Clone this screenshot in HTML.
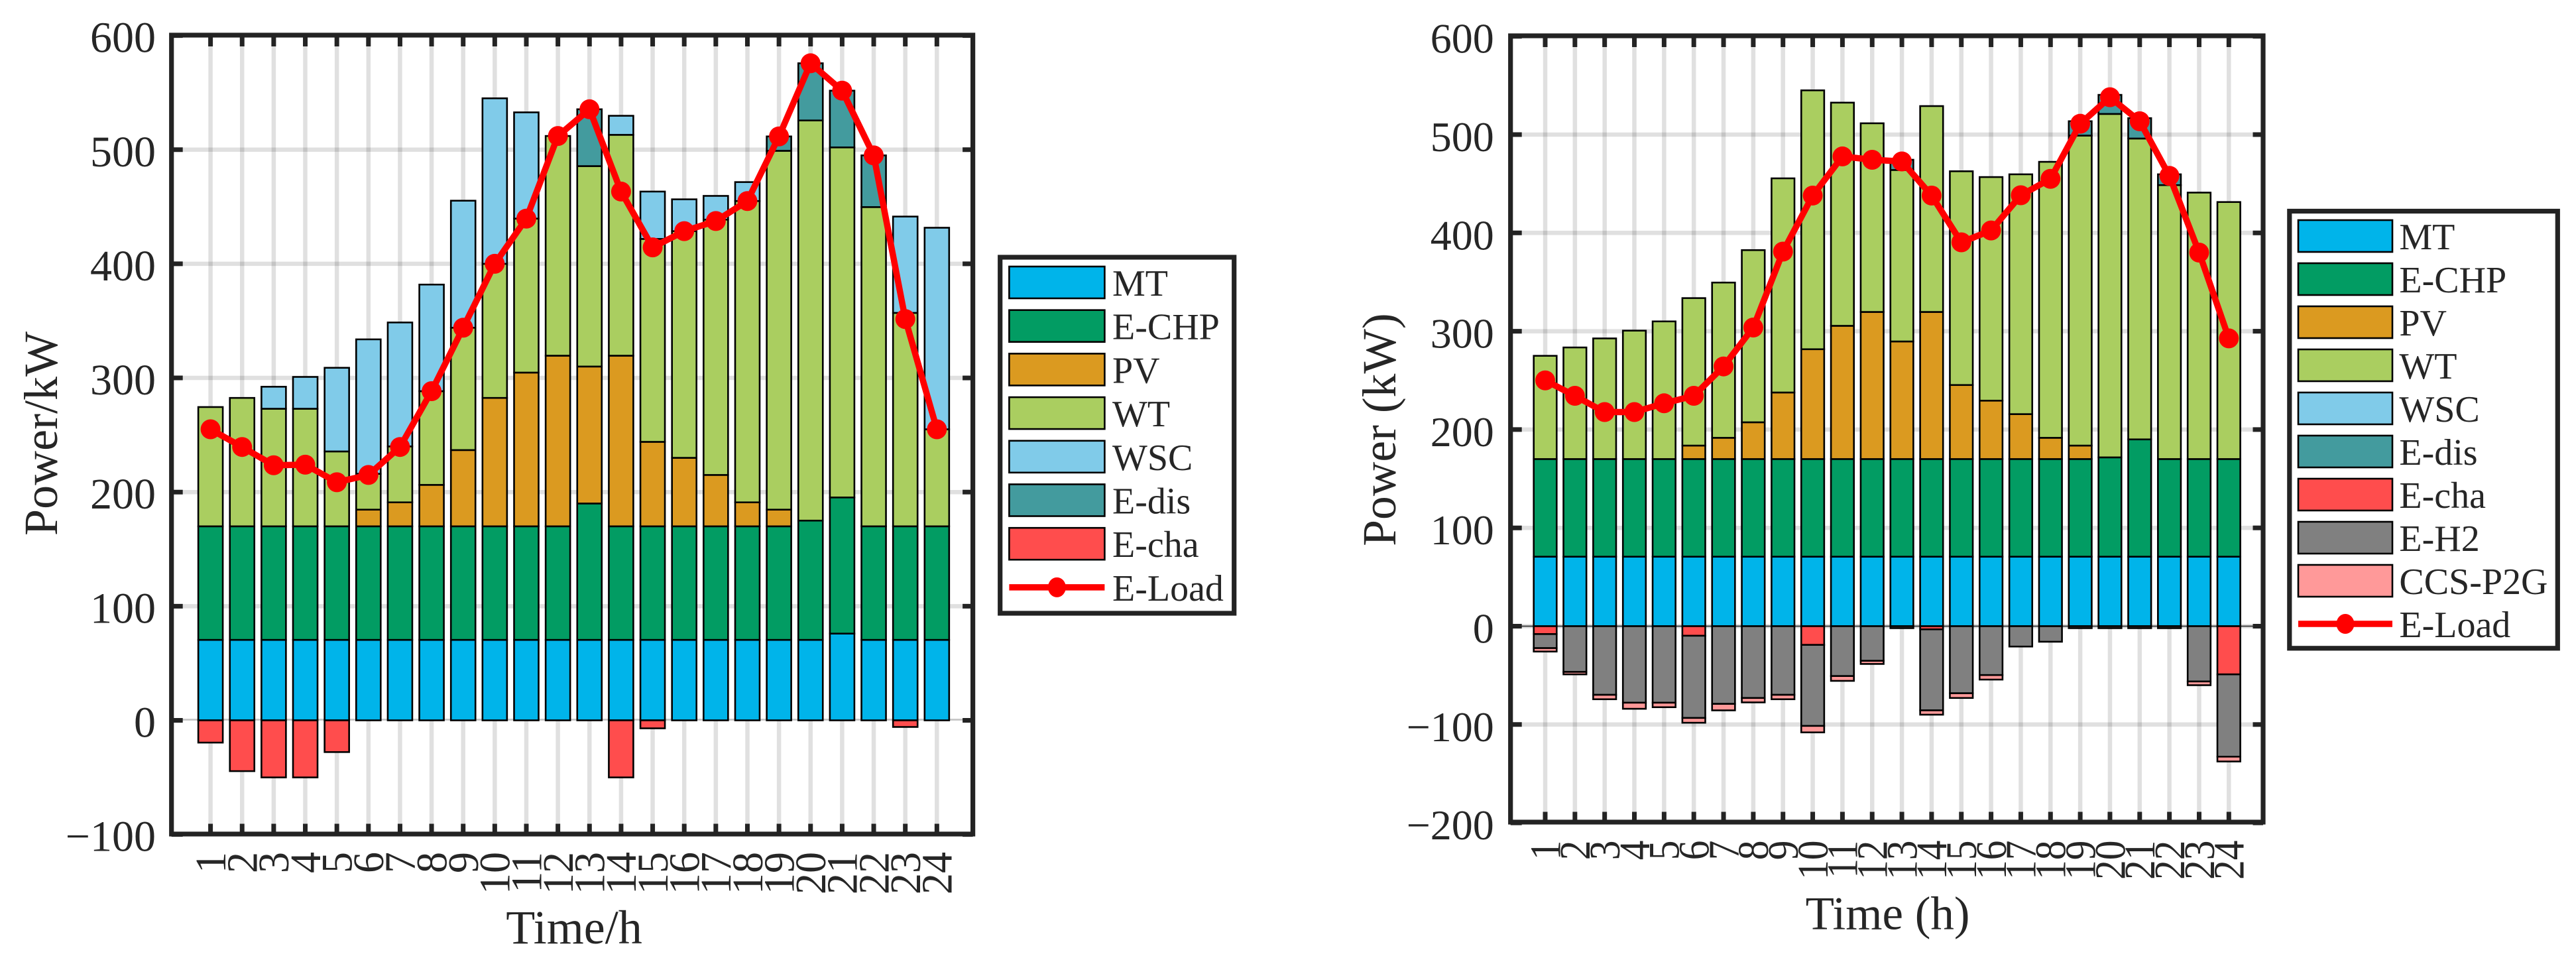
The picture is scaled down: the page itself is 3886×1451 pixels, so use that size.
<!DOCTYPE html>
<html lang="en">
<head>
<meta charset="utf-8">
<title>Power balance charts</title>
<style>
html,body{margin:0;padding:0;background:#fff;width:3886px;height:1451px;overflow:hidden}
svg{display:block}
text{font-family:"Liberation Serif","Times New Roman",serif;fill:#262626}
</style>
</head>
<body>
<svg id="figure" xmlns="http://www.w3.org/2000/svg" width="3886" height="1451" viewBox="0 0 3886 1451">
  <rect x="0" y="0" width="3886" height="1451" fill="#fff"/>
  <g id="left-chart"></g>
  <g id="right-chart"></g>
  <text x="866" y="1423" font-size="72" text-anchor="middle">Time/h</text>
  <text transform="translate(86,654) rotate(-90)" font-size="72" text-anchor="middle">Power/kW</text>
  <text x="2847.6" y="1401.6" font-size="71" text-anchor="middle">Time (h)</text>
  <text transform="translate(2105,648) rotate(-90)" font-size="71.5" text-anchor="middle">Power (kW)</text>
</svg>
<script>
const hours = [1,2,3,4,5,6,7,8,9,10,11,12,13,14,15,16,17,18,19,20,21,22,23,24];

const leftYTicks = [-100,0,100,200,300,400,500,600];
const leftMT  = [70.5,70.5,70.5,70.5,70.5,70.5,70.5,70.5,70.5,70.5,70.5,70.5,70.5,70.5,70.5,70.5,70.5,70.5,70.5,70.5,76,70.5,70.5,70.5];
const leftCHP = [99.5,99.5,99.5,99.5,99.5,99.5,99.5,99.5,99.5,99.5,99.5,99.5,119.5,99.5,99.5,99.5,99.5,99.5,99.5,104.5,119.3,99.5,99.5,99.5];
const leftPV  = [0,0,0,0,0,14.6,21,36.3,66.8,112.5,134.7,149.5,120,149.5,74,60,45,21,14.6,0,0,0,0,0];
const leftWT  = [104.5,112.5,103,103,65.6,31.4,49,82.1,107.2,117.5,134.9,192.5,175.6,193.5,177.8,198.6,223.7,264,314.4,350.6,306.7,279.7,187,85];
const leftWSC = [0,0,19.3,27.9,73.3,117.8,108.6,93.4,111.3,145,93.1,0,0,16.7,41.5,27.9,20.8,16.6,0,0,0,0,84.4,176.6];
const leftDis = [0,0,0,0,0,0,0,0,0,0,0,0,49.8,0,0,0,0,0,12.6,50.1,49.7,45.3,0,0];
const leftCha = [-19.5,-44.5,-50,-50,-27.8,0,0,0,0,0,0,0,0,-50,-7,0,0,0,0,0,0,0,-5.8,0];
const leftLoad = [255,239.5,223.5,224,208.6,215,239.5,288.4,344,400,439.6,512,535.4,463.3,414.4,428.6,437.5,455,511.6,575.7,551.7,495,351.6,255];

const rightYTicks = [-200,-100,0,100,200,300,400,500,600];
const rightMT  = [70.7,70.7,70.7,70.7,70.7,70.7,70.7,70.7,70.7,70.7,70.7,70.7,70.7,70.7,70.7,70.7,70.7,70.7,70.7,70.7,70.7,70.7,70.7,70.7];
const rightCHP = [99.3,99.3,99.3,99.3,99.3,99.3,99.3,99.3,99.3,99.3,99.3,99.3,99.3,99.3,99.3,99.3,99.3,99.3,99.3,101,119.3,99.3,99.3,99.3];
const rightPV  = [0,0,0,0,0,13.7,21.6,37.4,67.7,111.7,135.5,149.6,119.6,149.6,75.3,59.4,45.7,21.6,13.7,0,0,0,0,0];
const rightWT  = [105,113.5,122.7,130.6,140,150,157.9,175.1,217.8,263.3,227,191.9,174.4,209.4,217.4,227.4,243.9,280.7,315.3,349.3,306,278.6,271,261.4];
const rightWSC = [0,0,0,0,0,0,0,0,0,0,0,0,0,0,0,0,0,0,0,0,0,0,0,0];
const rightDis = [0,0,0,0,0,0,0,0,0,0,0,0,10.4,0,0,0,0,0,14.6,19.4,20.7,11,0,0];
const rightCha = [-8,0,0,0,0,-9.7,0,0,0,-19,0,0,0,-3.2,0,0,0,0,0,0,0,0,0,-49];
const rightH2  = [-14.3,-46.5,-69.8,-77.8,-77.8,-83.6,-79,-73,-69.8,-82.4,-50.7,-35.2,-2,-82.4,-68.2,-49.7,-20.7,-15.8,-2,-2,-2,-2,-56.2,-83.7];
const rightCCS = [-3.5,-2.5,-4.5,-6.2,-4.6,-4.9,-6.6,-4.5,-4.5,-6.6,-4.9,-3.2,0,-4.4,-4.8,-4.6,0,0,0,0,0,0,-3.8,-4.9];
const rightLoad = [250,234.3,217.8,217.8,226.7,234.3,264.2,303.8,381,438,477.8,474.4,472.7,438,390.4,402.5,438.3,455,511,538,513.6,458,380,292.7];

const SVGNS = 'http://www.w3.org/2000/svg';
const FRAME = '#232323';

function make(parent, tag, attrs) {
  const el = document.createElementNS(SVGNS, tag);
  for (const k in attrs) el.setAttribute(k, attrs[k]);
  parent.appendChild(el);
  return el;
}

function drawChart(p) {
  const sx = h => p.x1 + (h - 1) * p.step;
  const sy = v => p.y0 - v * p.unit;
  const root = document.getElementById(p.id);

  // grid
  const grid = make(root, 'g', {stroke: 'rgba(0,0,0,0.12)', 'stroke-width': 6.5, fill: 'none'});
  
  
  p.yTicks.forEach(v => {
    if (v === p.yTicks[0] || v === p.yTicks[p.yTicks.length - 1]) return;
    if (v === 0 && !p.zeroGrid) return;
    const l = make(grid, 'line', {x1: p.left, x2: p.right, y1: sy(v), y2: sy(v)});
    
    
  });
  hours.forEach(h => {
    const l = make(grid, 'line', {x1: sx(h), x2: sx(h), y1: p.top, y2: p.bottom});
    
    
  });

  // zero baseline
  const base = make(root, 'line', {x1: p.left, x2: p.right, y1: sy(0) + p.baseShift, y2: sy(0) + p.baseShift, stroke: p.baseColor, 'stroke-width': p.baseWidth});
  
  

  // stacked bars
  const bars = make(root, 'g', {stroke: '#000', 'stroke-width': 2.6});
  
  
  hours.forEach((h, i) => {
    let pos = 0, neg = 0;
    p.stack.forEach(s => {
      const v = s.values[i];
      if (!v) return;
      let from, to;
      if (v > 0) { from = pos; to = pos + v; pos = to; }
      else { from = neg; to = neg + v; neg = to; }
      const yA = sy(Math.max(from, to)), yB = sy(Math.min(from, to));
      const r = make(bars, 'rect', {x: sx(h) - p.barW / 2, y: yA, width: p.barW, height: yB - yA, fill: s.color});
      
      
    });
  });

  // load line
  const pts = hours.map((h, i) => sx(h) + ',' + sy(p.load[i])).join(' ');
  const line = make(root, 'polyline', {points: pts, fill: 'none', stroke: '#ff0000', 'stroke-width': 9.5, 'stroke-linejoin': 'round'});
  
  
  hours.forEach((h, i) => {
    const c = make(root, 'circle', {cx: sx(h), cy: sy(p.load[i]), r: 15, fill: '#ff0000'});
    
    
  });

  // frame
  const frame = make(root, 'rect', {x: p.left, y: p.top, width: p.right - p.left, height: p.bottom - p.top, fill: 'none', stroke: FRAME, 'stroke-width': 7.2});
  
  

  // x ticks and labels
  hours.forEach(h => {
    const t1 = make(root, 'line', {x1: sx(h), x2: sx(h), y1: p.top, y2: p.top + 17, stroke: FRAME, 'stroke-width': 7});
    
    
    const t2 = make(root, 'line', {x1: sx(h), x2: sx(h), y1: p.bottom, y2: p.bottom - 15.5, stroke: FRAME, 'stroke-width': 7});
    
    
    const lbl = make(root, 'text', {
      transform: 'translate(' + (sx(h) + 22.3) + ',' + p.xLabelTop + ') rotate(-90) scale(' + p.xLabelSqueeze + ',1)',
      'font-size': 66, 'text-anchor': 'end'
    });
    
    
    lbl.textContent = String(h);
  });

  // y ticks and labels
  p.yTicks.forEach(v => {
    const t1 = make(root, 'line', {x1: p.left, x2: p.left + 17, y1: sy(v), y2: sy(v), stroke: FRAME, 'stroke-width': 7});
    
    
    const t2 = make(root, 'line', {x1: p.right, x2: p.right - 15.5, y1: sy(v), y2: sy(v), stroke: FRAME, 'stroke-width': 7});
    
    
    const lbl = make(root, 'text', {x: p.yLabelX, y: sy(v) + 25, 'font-size': p.yLabelSize, 'text-anchor': 'end'});
    
    
    lbl.textContent = v < 0 ? '\u2212' + Math.abs(v) : String(v);
  });

  // legend
  const L = p.legend;
  const lg = make(root, 'g', {});
  
  
  const box = make(lg, 'rect', {x: L.x, y: L.y, width: L.w, height: L.h, fill: '#fff', stroke: FRAME, 'stroke-width': 7.2});
  
  
  p.stack.forEach((s, i) => {
    const y = L.first + i * L.pitch;
    const sw = make(lg, 'rect', {x: L.px, y: y, width: L.pw, height: 48, fill: s.color, stroke: '#000', 'stroke-width': 2.6});
    
    
    const t = make(lg, 'text', {x: L.tx, y: y + 44, 'font-size': 56, fill: '#000'});
    
    
    t.textContent = s.label;
  });
  const ly = L.first + p.stack.length * L.pitch + 24;
  const ll = make(lg, 'line', {x1: L.px, x2: L.px + L.pw, y1: ly, y2: ly, stroke: '#ff0000', 'stroke-width': 9.5});
  
  
  const lc = make(lg, 'ellipse', {cx: L.px + L.pw / 2, cy: ly, rx: 13.5, ry: 15, fill: '#ff0000'});
  
  
  const lt = make(lg, 'text', {x: L.tx, y: ly + 20, 'font-size': 56, fill: '#000'});
  
  
  lt.textContent = 'E-Load';
}

drawChart({
  id: 'left-chart', x1: 317.6, step: 47.64, y0: 1086.5, unit: 1.7215,
  left: 258.7, right: 1467.6, top: 53, bottom: 1258, barW: 37,
  xLabelTop: 1285, xLabelSqueeze: 0.97, yLabelX: 235, yLabelSize: 66,
  zeroGrid: false, baseColor: '#c4c4c4', baseWidth: 2.7, baseShift: -1,
  yTicks: leftYTicks, load: leftLoad,
  stack: [
    {key: 'mt', label: 'MT', color: '#00B4EA', values: leftMT},
    {key: 'e-chp', label: 'E-CHP', color: '#029C63', values: leftCHP},
    {key: 'pv', label: 'PV', color: '#DB9A20', values: leftPV},
    {key: 'wt', label: 'WT', color: '#AACE60', values: leftWT},
    {key: 'wsc', label: 'WSC', color: '#80CBE9', values: leftWSC},
    {key: 'e-dis', label: 'E-dis', color: '#439B9E', values: leftDis},
    {key: 'e-cha', label: 'E-cha', color: '#FF4D4D', values: leftCha}
  ],
  legend: {x: 1508.7, y: 388, w: 353, h: 537, px: 1522.4, pw: 144, tx: 1678, first: 402, pitch: 65.7}
});

drawChart({
  id: 'right-chart', x1: 2331, step: 44.84, y0: 944.5, unit: 1.483,
  left: 2278.7, right: 3414, top: 54, bottom: 1240, barW: 34.6,
  xLabelTop: 1267.5, xLabelSqueeze: 0.9, yLabelX: 2253.8, yLabelSize: 64,
  zeroGrid: true, baseColor: '#444', baseWidth: 2, baseShift: 0,
  yTicks: rightYTicks, load: rightLoad,
  stack: [
    {key: 'mt', label: 'MT', color: '#00B4EA', values: rightMT},
    {key: 'e-chp', label: 'E-CHP', color: '#029C63', values: rightCHP},
    {key: 'pv', label: 'PV', color: '#DB9A20', values: rightPV},
    {key: 'wt', label: 'WT', color: '#AACE60', values: rightWT},
    {key: 'wsc', label: 'WSC', color: '#80CBE9', values: rightWSC},
    {key: 'e-dis', label: 'E-dis', color: '#439B9E', values: rightDis},
    {key: 'e-cha', label: 'E-cha', color: '#FF4D4D', values: rightCha},
    {key: 'e-h2', label: 'E-H2', color: '#808080', values: rightH2},
    {key: 'ccs-p2g', label: 'CCS-P2G', color: '#FF9999', values: rightCCS}
  ],
  legend: {x: 3453.8, y: 318.5, w: 404.5, h: 659.3, px: 3467, pw: 142, tx: 3619.4, first: 332, pitch: 65}
});
</script>
</body>
</html>
